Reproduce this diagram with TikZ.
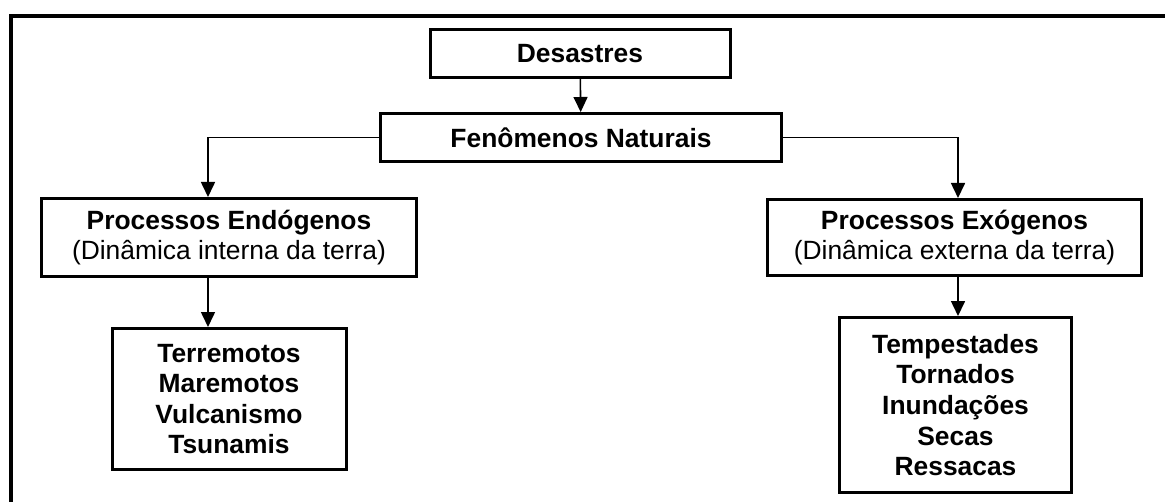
\documentclass[tikz,border=0pt]{standalone}
\usepackage{fontspec}
\setmainfont{Liberation Sans}
\usepackage{tikz}
\usetikzlibrary{positioning,arrows.meta}
\tikzset{c-box/.style={rectangle, draw=black, line width=1.5pt, fill=white, text centered, align=center, inner sep=0pt, font=\fontsize{13.2}{15.3}\selectfont},
c-bold/.style={c-box, font=\fontsize{13.2}{15.3}\selectfont\bfseries},
arrow/.style={line width=0.8pt,-{Triangle[width=7pt,length=7.5pt]}},
frame/.style={line width=2pt}}

\begin{document}
\begin{tikzpicture}[node distance = 42pt]
\useasboundingbox (0,0) rectangle (582.5pt,-251pt);
\clip (0,0) rectangle (582.5pt,-251pt);
\draw [frame] (5.5pt,-260pt) -- (5.5pt,-8pt) -- (590pt,-8pt);
\node (n0) [c-bold, minimum width=150pt, minimum height=24pt] at (290pt,-26.75pt) {Desastres};
\node (n1) [c-bold, below of=n0, xshift=0.5pt, minimum width=200.5pt, minimum height=24pt] {Fenômenos Naturais};
\node (n2) [c-box, node distance=50pt, below of=n1, xshift=-176pt, minimum width=187.5pt, minimum height=39pt] {
\textbf{Processos Endógenos}\\
(Dinâmica interna da terra)
};
\node (n3) [c-box, node distance=50pt, below of=n1, xshift=186.75pt, minimum width=187pt, minimum height=38pt] {
\textbf{Processos Exógenos}\\
(Dinâmica externa da terra)
};
\node (n4) [c-bold, node distance=80.75pt, below of=n2, minimum width=117pt, minimum height=70.5pt] {
Terremotos\\
Maremotos\\
Vulcanismo\\
Tsunamis
};
\node (n5) [c-bold, node distance=83.75pt, below of=n3, xshift=0.5pt, minimum width=116pt, minimum height=87.5pt] {
Tempestades\\
Tornados\\
Inundações\\
Secas\\
Ressacas
};
\coordinate (k2) at ([xshift=-10.5pt]n2.north);
\coordinate (k3) at ([xshift=1.75pt]n3.north);
\draw [arrow] (n0) -- (n1);
\draw [arrow] (n1.west) -| (k2);
\draw [arrow] (n1.east) -| (k3);
\draw [arrow] (n2.south -| k2) -- (n4.north -| k2);
\draw [arrow] (n3.south -| k3) -- (n5.north -| k3);
\end{tikzpicture}
\end{document}
